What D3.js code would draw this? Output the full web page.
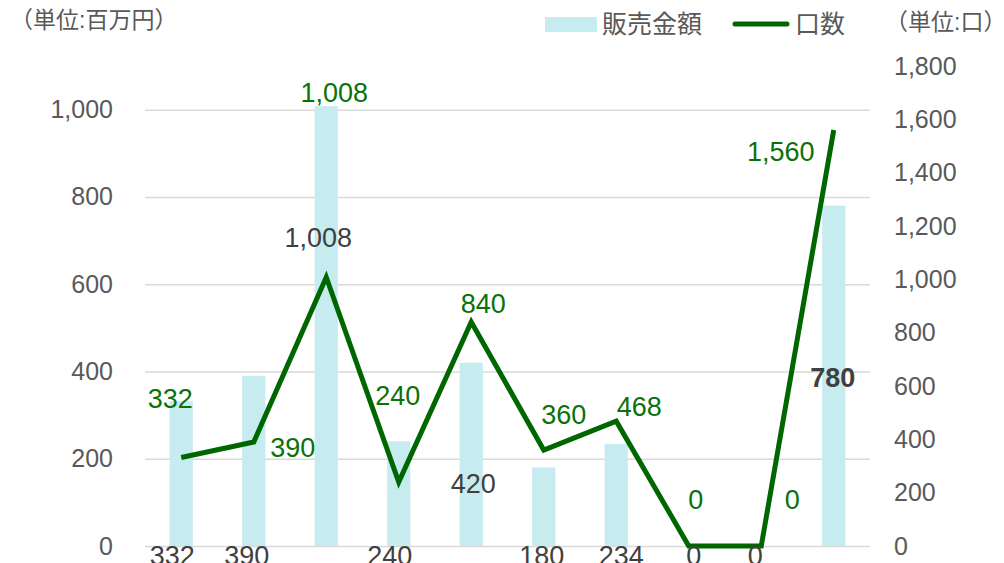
<!DOCTYPE html>
<html>
<head>
<meta charset="utf-8">
<script src="https://cdn.jsdelivr.net/npm/d3@7"></script>
<style>
  body { margin: 0; background: #fff; }
  svg { display: block; font-family: "Liberation Sans", Arial, "Noto Sans CJK JP", sans-serif; }
</style>
</head>
<body>
<div class="chart"></div>
<script>
// data
const categories = ["1", "2", "3", "4", "5", "6", "7", "8", "9", "10"];
const sales = [332, 390, 1008, 240, 420, 180, 234, 0, 0, 780];     // 販売金額 (百万円)
const counts = [332, 390, 1008, 240, 840, 360, 468, 0, 0, 1560];   // 口数
const leftTicks = [0, 200, 400, 600, 800, 1000];
const rightTicks = [0, 200, 400, 600, 800, 1000, 1200, 1400, 1600, 1800];

// hand placed label nudges (px), as in the original
const countLabelDx = [-11, 39, 8, -1, 12, 20, 23, 7, 31, -53];
const countLabelDy = [-49, 15, -175, -77, -9, -26, -5, -37, -37, 31];
const salesLabelDx = [-9, -7, -8, -9, 2, -2, 5, 5, -6, -1];
const salesLabelDy = [19, 19, -299, 19, -53, 19, 19, 19, 19, -159];

let outWidth = 1004, outHeight = 563;
let plot = {left: 145, right: 870, top: 66, bottom: 546};
const barColor = "#c6ecef", lineColor = "#006600", labelGreen = "#0a720a";
const axisGray = "#595959", darkGray = "#404040";

const svg = d3.select('.chart').append('svg')
  .attr("width", outWidth)
  .attr("height", outHeight);

let x = d3.scaleBand()
  .domain(categories)
  .range([plot.left, plot.right])
  .paddingInner(0.68)
  .paddingOuter(0.34);
let yL = d3.scaleLinear().domain([0, 1100]).range([plot.bottom, plot.top]);
let yR = d3.scaleLinear().domain([0, 1800]).range([plot.bottom, plot.top]);
const cx = d => x(d) + x.bandwidth() / 2;

// gridlines + left axis
const leftAxis = d3.axisLeft(yL)
  .tickValues(leftTicks)
  .tickSize(-(plot.right - plot.left))
  .tickPadding(32)
  .tickFormat(d3.format(","));
const gl = svg.append("g")
  .attr("transform", `translate(${plot.left},0)`)
  .call(leftAxis);
gl.select(".domain").remove();
gl.selectAll(".tick line").attr("stroke", "#d9d9d9").attr("stroke-width", 1.5);
gl.selectAll(".tick text").attr("fill", axisGray).style("font-size", "25px");

// right axis
const rightAxis = d3.axisRight(yR)
  .tickValues(rightTicks)
  .tickSize(0)
  .tickPadding(24)
  .tickFormat(d3.format(","));
const gr = svg.append("g")
  .attr("transform", `translate(${plot.right},0)`)
  .call(rightAxis);
gr.select(".domain").remove();
gr.selectAll(".tick text").attr("fill", axisGray).style("font-size", "25px");

// bars
svg.append("g").selectAll("rect")
  .data(categories)
  .join("rect")
  .attr("x", d => x(d))
  .attr("width", x.bandwidth())
  .attr("y", (d, i) => yL(sales[i]))
  .attr("height", (d, i) => yL(0) - yL(sales[i]))
  .attr("fill", barColor);

// line
const line = d3.line()
  .x(d => cx(d.c))
  .y(d => yR(d.v));
svg.append("path")
  .datum(categories.map((c, i) => ({c: c, v: counts[i]})))
  .attr("d", line)
  .attr("fill", "none")
  .attr("stroke", lineColor)
  .attr("stroke-width", 5)
  .attr("stroke-linejoin", "miter");

// sales labels (gray)
svg.append("g").selectAll("text")
  .data(categories)
  .join("text")
  .attr("x", (d, i) => cx(d) + salesLabelDx[i])
  .attr("y", (d, i) => yL(0) + salesLabelDy[i])
  .attr("text-anchor", "middle")
  .attr("fill", darkGray)
  .style("font-size", "27px")
  .style("font-weight", (d, i) => i == 9 ? "bold" : "normal")
  .text((d, i) => d3.format(",")(sales[i]));

// count labels (green)
svg.append("g").selectAll("text")
  .data(categories)
  .join("text")
  .attr("x", (d, i) => cx(d) + countLabelDx[i])
  .attr("y", (d, i) => yR(counts[i]) + countLabelDy[i])
  .attr("text-anchor", "middle")
  .attr("fill", labelGreen)
  .style("font-size", "27px")
  .text((d, i) => d3.format(",")(counts[i]));

// unit labels
svg.append("text")
  .attr("x", 10).attr("y", 20)
  .attr("dominant-baseline", "central")
  .attr("fill", axisGray)
  .style("font-size", "23px")
  .text("（単位:百万円）");
svg.append("text")
  .attr("x", 885).attr("y", 22)
  .attr("dominant-baseline", "central")
  .attr("fill", axisGray)
  .style("font-size", "23px")
  .text("（単位:口）");

// legend
const lg = svg.append("g");
lg.append("rect")
  .attr("x", 545).attr("y", 17).attr("width", 52).attr("height", 15)
  .attr("fill", barColor);
lg.append("text")
  .attr("x", 602).attr("y", 24)
  .attr("dominant-baseline", "central")
  .attr("fill", axisGray)
  .style("font-size", "25px")
  .text("販売金額");
lg.append("line")
  .attr("x1", 735).attr("x2", 787).attr("y1", 24).attr("y2", 24)
  .attr("stroke", lineColor).attr("stroke-width", 5)
  .attr("stroke-linecap", "round");
lg.append("text")
  .attr("x", 795).attr("y", 24)
  .attr("dominant-baseline", "central")
  .attr("fill", axisGray)
  .style("font-size", "25px")
  .text("口数");
</script>
</body>
</html>
